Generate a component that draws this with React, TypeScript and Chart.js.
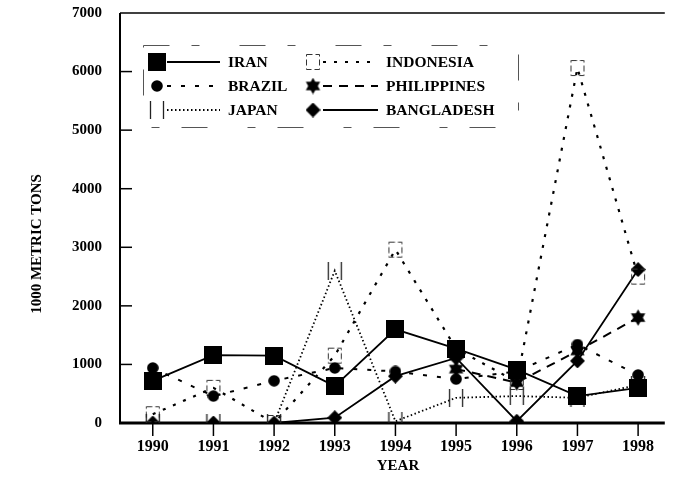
import React, { useEffect, useRef } from 'react';
import { Chart, registerables } from 'chart.js';

Chart.register(...registerables);

const years = [1990, 1991, 1992, 1993, 1994, 1995, 1996, 1997, 1998];
const iran = [720, 1160, 1150, 630, 1600, 1270, 910, 460, 600];
const brazil = [940, 460, 720, 940, 880, 750, 880, 1340, 820];
const japan = [0, 0, 0, 2600, 30, 430, 460, 430, 650];
const indonesia = [150, 600, 0, 1150, 2960, 1270, 700, 6060, 2500];
const philippines = [null, null, null, null, null, 920, 690, 1230, 1800];
const bangladesh = [0, 0, 0, 90, 800, 1110, 30, 1060, 2620];
const yTickValues = [0, 1000, 2000, 3000, 4000, 5000, 6000, 7000];

const seriesNames = ['IRAN', 'BRAZIL', 'JAPAN', 'INDONESIA', 'PHILIPPINES', 'BANGLADESH'];

const FONT = '"Liberation Serif", "Times New Roman", serif';

function mk(w: number, h: number, draw: (c: CanvasRenderingContext2D) => void) {
  const cv = document.createElement('canvas');
  cv.width = w;
  cv.height = h;
  const c = cv.getContext('2d')!;
  draw(c);
  return cv;
}

function makeMarkers() {
  const square = mk(18, 18, (c) => {
    c.fillStyle = '#000';
    c.fillRect(0, 0, 18, 18);
  });
  const circle = mk(12, 12, (c) => {
    c.fillStyle = '#000';
    c.beginPath();
    c.arc(6, 6, 5.8, 0, Math.PI * 2);
    c.fill();
  });
  const japanM = mk(16, 18, (c) => {
    c.strokeStyle = '#222';
    c.lineWidth = 1.3;
    c.beginPath();
    c.moveTo(1.5, 0);
    c.lineTo(1.5, 18);
    c.moveTo(14.5, 0);
    c.lineTo(14.5, 18);
    c.stroke();
  });
  const indoM = mk(16, 18, (c) => {
    c.strokeStyle = '#333';
    c.lineWidth = 1;
    c.setLineDash([6, 3]);
    c.strokeRect(1.5, 1.5, 13, 15);
  });
  const star = mk(17, 17, (c) => {
    c.fillStyle = '#000';
    const cx = 8.5, cy = 8.5, r = 8.3;
    for (const off of [-90, 90]) {
      c.beginPath();
      for (let k = 0; k < 3; k++) {
        const a = ((off + k * 120) * Math.PI) / 180;
        const px = cx + r * Math.cos(a);
        const py = cy + r * Math.sin(a);
        if (k === 0) c.moveTo(px, py);
        else c.lineTo(px, py);
      }
      c.closePath();
      c.fill();
    }
  });
  const diamond = mk(15, 15, (c) => {
    c.fillStyle = '#000';
    c.beginPath();
    c.moveTo(7.5, 0);
    c.lineTo(15, 7.5);
    c.lineTo(7.5, 15);
    c.lineTo(0, 7.5);
    c.closePath();
    c.fill();
  });
  return [square, circle, japanM, indoM, star, diamond];
}

const dashes: number[][] = [[], [4, 10], [1.5, 2.5], [3, 8], [9, 7], []];
const widths = [1.8, 2, 1.8, 2.2, 2, 1.8];

export default function App() {
  const ref = useRef<HTMLCanvasElement>(null);

  useEffect(() => {
    if (!ref.current) return;
    const markers = makeMarkers();
    const values = [iran, brazil, japan, indonesia, philippines, bangladesh];

    const decor = {
      id: 'decor',
      beforeDatasetsDraw(chart: any) {
        const { ctx, chartArea: a, scales } = chart;
        ctx.save();
        ctx.strokeStyle = '#000';
        ctx.lineWidth = 2;
        ctx.beginPath();
        ctx.moveTo(a.left, a.top);
        ctx.lineTo(a.left, a.bottom);
        ctx.stroke();
        ctx.lineWidth = 1.5;
        ctx.beginPath();
        ctx.moveTo(a.left, a.top);
        ctx.lineTo(a.right, a.top);
        ctx.stroke();
        ctx.lineWidth = 3;
        ctx.beginPath();
        ctx.moveTo(a.left - 1, a.bottom);
        ctx.lineTo(a.right, a.bottom);
        ctx.stroke();
        ctx.lineWidth = 1.5;
        for (const v of yTickValues) {
          if (v === 0 || v === 7000) continue;
          const y = scales.y.getPixelForValue(v);
          ctx.beginPath();
          ctx.moveTo(a.left, y);
          ctx.lineTo(a.left + 12, y);
          ctx.stroke();
        }
        for (const yr of years) {
          const x = scales.x.getPixelForValue(yr);
          ctx.beginPath();
          ctx.moveTo(x, a.bottom);
          ctx.lineTo(x, a.bottom + 13);
          ctx.stroke();
        }
        ctx.restore();
      },
      afterDraw(chart: any) {
        const { ctx } = chart;
        ctx.save();
        // legend box (broken border)
        ctx.strokeStyle = '#555';
        ctx.lineWidth = 1;
        ctx.setLineDash([26, 22, 8, 40]);
        ctx.strokeRect(143.5, 45.5, 375, 82);
        ctx.setLineDash([]);
        const rows = [62, 86, 110];
        const cols = [
          { mx: 157, l0: 157, l1: 220, tx: 228 },
          { mx: 313, l0: 313, l1: 378, tx: 386 },
        ];
        ctx.font = `bold 15.5px ${FONT}`;
        ctx.fillStyle = '#000';
        ctx.textAlign = 'left';
        ctx.textBaseline = 'middle';
        for (let i = 0; i < 6; i++) {
          const col = cols[Math.floor(i / 3)];
          const y = rows[i % 3];
          ctx.strokeStyle = '#000';
          ctx.lineWidth = widths[i];
          ctx.setLineDash(dashes[i]);
          ctx.beginPath();
          ctx.moveTo(col.l0 + 10, y);
          ctx.lineTo(col.l1, y);
          ctx.stroke();
          ctx.setLineDash([]);
          const m = markers[i];
          ctx.drawImage(m, col.mx - m.width / 2, y - m.height / 2);
          ctx.fillText(seriesNames[i], col.tx, y + 1);
        }
        // axis titles
        ctx.textAlign = 'center';
        ctx.textBaseline = 'middle';
        ctx.font = `bold 15px ${FONT}`;
        ctx.fillText('YEAR', 398, 466);
        ctx.translate(37, 244);
        ctx.rotate(-Math.PI / 2);
        ctx.fillText('1000 METRIC TONS', 0, 0);
        ctx.restore();
      },
    };

    const chart = new Chart(ref.current, {
      type: 'line',
      data: {
        datasets: values.map((arr, i) => ({
          label: seriesNames[i],
          data: arr.map((v, k) => ({ x: years[k], y: v })),
          borderColor: '#000',
          backgroundColor: '#000',
          borderWidth: widths[i],
          borderDash: dashes[i],
          pointStyle: markers[i] as any,
          pointRadius: 8,
          tension: 0,
          spanGaps: false,
          fill: false,
        })),
      },
      options: {
        responsive: false,
        animation: false,
        layout: { padding: { top: 13, right: 3, left: 0, bottom: 0 } },
        plugins: { legend: { display: false }, tooltip: { enabled: false } },
        scales: {
          x: {
            type: 'linear',
            min: 1989.46,
            max: 1998.44,
            grid: { display: false, drawTicks: false },
            border: { display: false },
            afterBuildTicks: (s: any) => {
              s.ticks = years.map((v) => ({ value: v }));
            },
            afterFit: (s: any) => {
              s.height = 70;
              s.paddingLeft = 0;
              s.paddingRight = 0;
            },
            ticks: {
              color: '#000',
              padding: 14,
              autoSkip: false,
              maxRotation: 0,
              font: { family: FONT, size: 16, weight: 'bold' },
              callback: (v: any) => String(v),
            },
          },
          y: {
            min: 0,
            max: 7000,
            grid: { display: false, drawTicks: false },
            border: { display: false },
            afterFit: (s: any) => {
              s.width = 120;
              s.paddingTop = 0;
              s.paddingBottom = 0;
            },
            ticks: {
              stepSize: 1000,
              color: '#000',
              padding: 18,
              font: { family: FONT, size: 15, weight: 'bold' },
              callback: (v: any) => String(v),
            },
          },
        },
      },
      plugins: [decor],
    } as any);

    return () => chart.destroy();
  }, []);

  return (
    <div style={{ position: 'fixed', left: 0, top: 0, width: 675, height: 493, background: '#fff' }}>
      <canvas ref={ref} width={675} height={493} style={{ display: 'block' }} />
    </div>
  );
}
